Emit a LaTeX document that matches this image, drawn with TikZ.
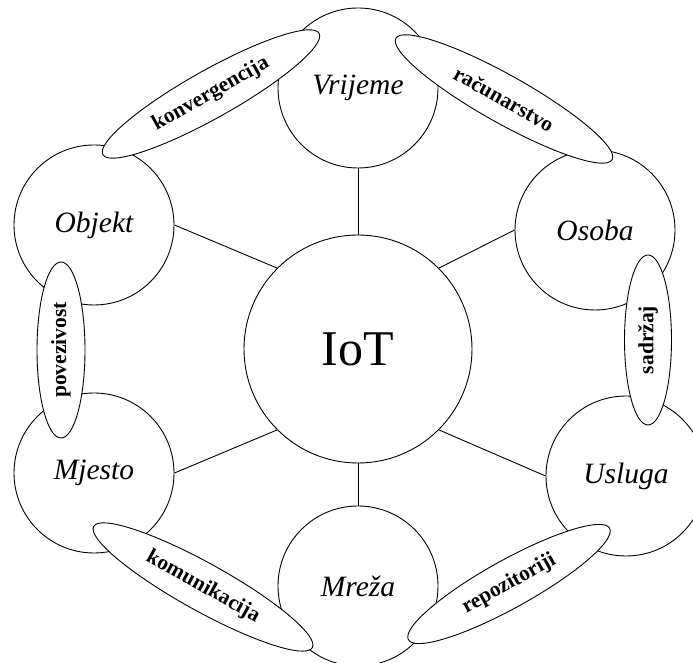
\documentclass[tikz,border=0pt]{standalone}
\usepackage{fontspec}
\setmainfont{Liberation Serif}
\usetikzlibrary{shapes.geometric}
\begin{document}
\begin{tikzpicture}[x=1pt,y=1pt,line width=0.9pt,
    pojam/.style={circle,draw,minimum size=160pt,inner sep=0pt,font=\fontsize{29.5}{32}\selectfont\itshape},
    veza/.style={ellipse,draw,fill=white,minimum height=48pt,inner sep=0pt,font=\fontsize{21.5}{24}\selectfont\bfseries}]
  \useasboundingbox (0,0) rectangle (693,663);
  \clip (0,0) rectangle (693,663);
  % sredisnji pojam
  \node[circle,draw,minimum size=228pt,inner sep=0pt,font=\fontsize{50}{54}\selectfont] (iot) at (358,314) {IoT};
  \node[pojam] (vrijeme) at (358,575) {Vrijeme};
  \node[pojam] (objekt) at (94,438) {Objekt};
  \node[pojam] (osoba) at (595,433) {Osoba};
  \node[pojam] (mjesto) at (94,190) {Mjesto};
  \node[pojam] (usluga) at (626,187) {Usluga};
  \node[pojam] (mreza) at (358,77) {Mreža};
  \draw (vrijeme.south) -- (iot.north);
  \draw (objekt.east) -- (iot.135);
  \draw (osoba.west) -- (iot.45);
  \draw (mjesto.east) -- (iot.-135);
  \draw (usluga.west) -- (iot.-45);
  \draw (mreza.north) -- (iot.south);
  % veze izmedu pojmova
  \node[veza,minimum width=248pt,rotate=29.3] (konv) at (211,569) {konvergencija};
  \node[veza,minimum width=248pt,rotate=-29.3] (racun) at (504,564) {računarstvo};
  \node[veza,minimum width=176pt,rotate=90] (povez) at (61,313) {povezivost};
  \node[veza,minimum width=170pt,minimum height=47pt,rotate=90] (sadrzaj) at (648,323) {sadržaj};
  \node[veza,minimum width=250pt,rotate=-29] (komun) at (203,76) {komunikacija};
  \node[veza,minimum width=230pt,rotate=29] (repoz) at (509,79) {repozitoriji};
\end{tikzpicture}
\end{document}
